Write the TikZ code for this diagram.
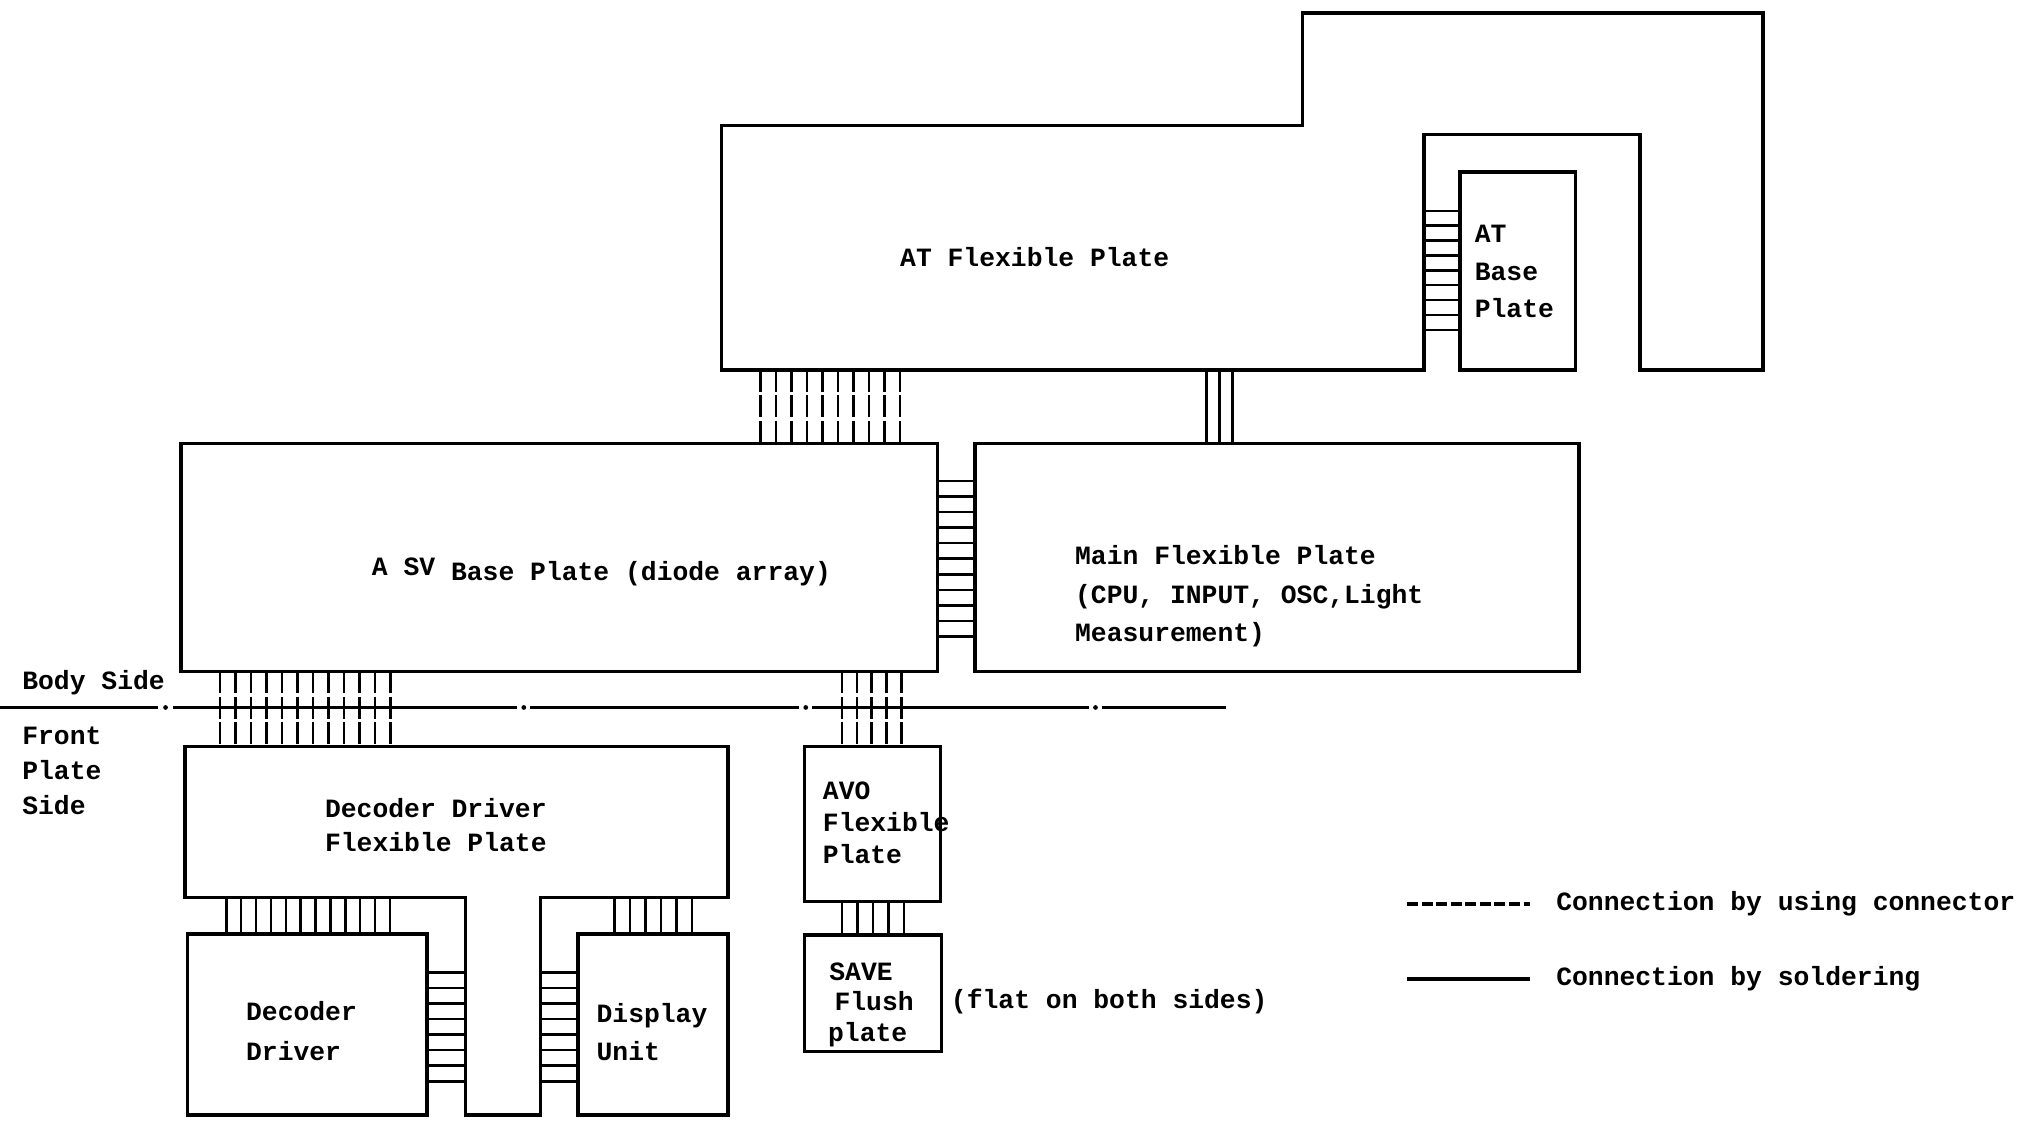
\documentclass[tikz,border=0pt]{standalone}
\usepackage{fontspec}
\setmonofont{Liberation Mono}
\newcommand{\lbl}[1]{\fontsize{14.5}{#1}\selectfont\ttfamily\bfseries}

\begin{document}
\begin{tikzpicture}[x=0.025cm, y=-0.025cm,
  plate/.style={line width=1.9pt, line join=miter},
  wire/.style={line width=1.4pt},
  plug/.style={wire, dash pattern=on 12pt off 2pt},
  txt/.style={inner sep=0pt, font=\lbl{19pt}, align=left}]

\useasboundingbox (0,0) rectangle (1568,867);

% AT Flexible Plate
\draw[plate] (558,97) -- (1007,97) -- (1007,10) -- (1363,10) -- (1363,286)
  -- (1268,286) -- (1268,104) -- (1101,104) -- (1101,286) -- (558,286) -- cycle;
\node[txt] (atflex) at (800,199) {AT Flexible Plate};

% AT Base Plate
\draw[plate] (1129,133) rectangle (1218,286);
\node[txt, anchor=west, font=\lbl{20.5pt}] (atbase) at (1140,210) {AT\\Base\\Plate};
\foreach \y in {163,174.5,...,256}
  \draw[wire] (1101,\y) -- (1129,\y);

% AT -> A SV (connector), AT -> Main (soldering)
\foreach \x in {588,600,...,696}
  \draw[plug] (\x,286) -- (\x,343);
\foreach \x in {933,943,953}
  \draw[wire] (\x,286) -- (\x,343);

% A SV Base Plate
\draw[plate] (140,343) rectangle (725,519);
\node[txt] (svbase) at (465,442) {\raisebox{2.5pt}{A SV} Base Plate (diode array)};

% Main Flexible Plate
\draw[plate] (754,343) rectangle (1221,519);
\node[txt, anchor=west, font=\lbl{21pt}] (mainflex) at (831,461)
  {Main Flexible Plate\\(CPU, INPUT, OSC,Light\\Measurement)};
\foreach \y in {372,384,...,492}
  \draw[wire] (725,\y) -- (754,\y);

% Body side / front plate side
\foreach \a/\b in {0/122,134/400,410/618,628/842,852/948}
  \draw[line width=1.6pt] (\a,547) -- (\b,547);
\foreach \x in {128,405,623,847}
  \fill (\x,547) circle (1.3pt);
\node[txt, anchor=west] (body) at (17,528) {Body Side};
\node[txt, anchor=west] (front) at (17,596) {Front\\Plate\\Side};

% A SV -> Decoder Driver Flexible, A SV -> AVO
\foreach \x in {170,182,...,302}
  \draw[plug] (\x,519) -- (\x,577);
\foreach \x in {651,662.5,...,698}
  \draw[plug] (\x,519) -- (\x,577);

% Decoder Driver Flexible Plate
\draw[plate] (143,577) -- (563,577) -- (563,694) -- (418,694) -- (418,862)
  -- (360,862) -- (360,694) -- (143,694) -- cycle;
\node[txt] (decflex) at (337,638) {Decoder Driver\\Flexible Plate};

% Decoder Driver
\draw[plate] (145,722) rectangle (330,862);
\node[txt, anchor=west, font=\lbl{22pt}] (decdrv) at (190,797) {Decoder\\Driver};

% Display Unit
\draw[plate] (447,722) rectangle (563,862);
\node[txt, anchor=west, font=\lbl{21pt}] (disp) at (461,798) {Display\\Unit};

% soldered joints below the flexible plate
\foreach \x in {175,186.5,...,303}
  \draw[wire] (\x,694) -- (\x,722);
\foreach \x in {475,487,...,535}
  \draw[wire] (\x,694) -- (\x,722);
\foreach \y in {752,764,...,836} {
  \draw[wire] (330,\y) -- (360,\y);
  \draw[wire] (418,\y) -- (447,\y);
}

% AVO Flexible Plate
\draw[plate] (622,577) rectangle (727,697);
\node[txt, anchor=west, font=\lbl{17.5pt}] (avo) at (636,636) {AVO\\Flexible\\Plate};
\foreach \x in {651,663,...,699}
  \draw[wire] (\x,697) -- (\x,723);

% SAVE Flush plate
\draw[plate] (622,723) rectangle (728,813);
\node[txt, anchor=west] (save) at (641,751) {SAVE};
\node[txt, anchor=west] (flush) at (645,774) {Flush};
\node[txt, anchor=west] (saveplate) at (640,800) {plate};
\node[txt, anchor=west] (flat) at (735,774) {(flat on both sides)};

% Legend
\draw[line width=1.9pt, dash pattern=on 6pt off 2pt] (1088,699) -- (1183,699);
\node[txt, anchor=west] (legplug) at (1203,699) {Connection by using connector};
\draw[plate] (1088,757) -- (1183,757);
\node[txt, anchor=west] (legsolder) at (1203,757) {Connection by soldering};

\end{tikzpicture}
\end{document}
